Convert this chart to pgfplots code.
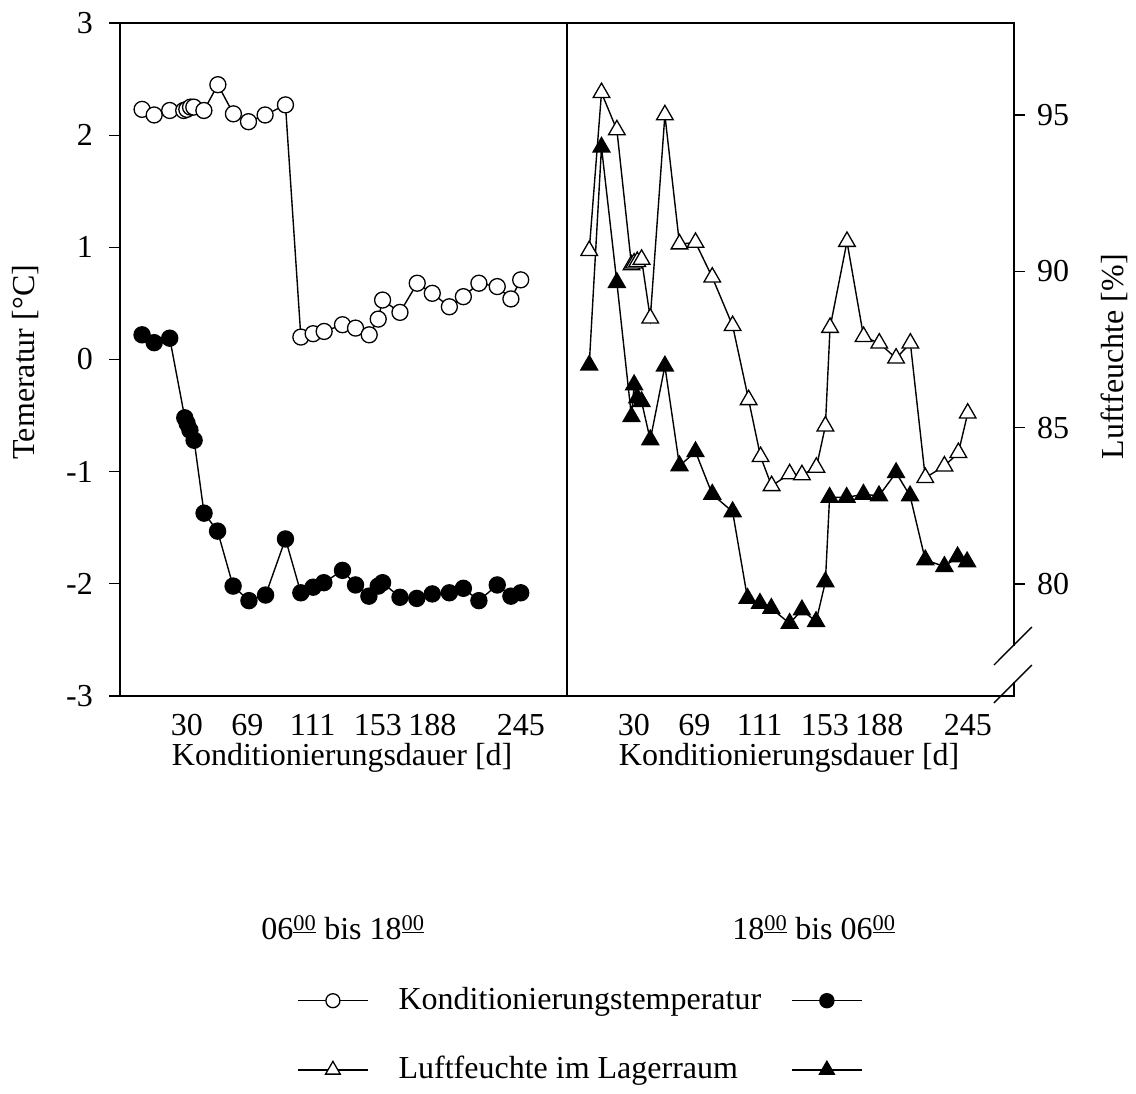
\documentclass[border=0pt]{standalone}
\usepackage{fontspec}
\setmainfont{Liberation Serif}
\usepackage{pgfplots}
\pgfplotsset{compat=1.18}
\usepackage{pgfplotstable}

% Konditionierungstemperatur, 06:00-18:00 (day, degC)
\pgfplotstableread{
day T
1.2 2.23
9 2.18
19 2.22
28 2.22
30 2.23
32.4 2.25
34.5 2.25
41 2.22
50 2.45
60 2.19
69.7 2.12
80.4 2.18
93.5 2.27
103.4 0.20
111.3 0.23
118.4 0.25
130.2 0.31
138.6 0.28
147.4 0.22
153.2 0.36
156 0.53
167.2 0.42
178.3 0.68
188 0.59
199 0.47
208 0.56
218 0.68
229.8 0.65
238.6 0.54
244.9 0.71
}\tempday

% Konditionierungstemperatur, 18:00-06:00
\pgfplotstableread{
day T
1.2 0.22
9 0.15
19 0.19
28.7 -0.52
30.2 -0.57
32 -0.63
34.7 -0.72
41.1 -1.37
49.8 -1.53
59.8 -2.02
70 -2.15
80.7 -2.10
93.5 -1.60
103.4 -2.08
111.3 -2.03
118.2 -1.99
130.2 -1.88
138.6 -2.01
147.2 -2.11
153.2 -2.02
156 -1.99
167.2 -2.12
178 -2.13
188 -2.09
199 -2.08
208 -2.04
218 -2.15
229.8 -2.01
238.6 -2.11
244.9 -2.08
}\tempnight

% Luftfeuchte im Lagerraum, 06:00-18:00 (day, %)
\pgfplotstableread{
day RH
1.3 90.66
9.2 95.71
19.1 94.52
28.5 90.20
30.2 90.26
32.2 90.31
35 90.38
40.6 88.50
50 95.0
59.4 90.87
69.7 90.92
80.5 89.81
93.6 88.26
103.9 85.89
111.6 84.07
118.7 83.14
130.3 83.52
138.2 83.49
147.5 83.73
153.3 85.05
156.3 88.2
167.2 90.95
177.9 87.91
188 87.7
198.8 87.22
208 87.7
217.6 83.4
229.9 83.77
238.9 84.2
244.9 85.46
}\rhday

% Luftfeuchte im Lagerraum, 18:00-06:00
\pgfplotstableread{
day RH
1.3 87.0
9.2 93.97
19.1 89.64
28.5 85.35
30.2 86.37
32.2 85.95
35 85.83
40.6 84.61
50 86.97
59.4 83.78
69.7 84.23
80.5 82.87
93.6 82.31
103.2 79.54
111.2 79.38
118.5 79.22
130.3 78.74
138.2 79.17
147.3 78.80
153.3 80.07
156 82.77
167 82.77
177.8 82.87
187.8 82.82
198.8 83.56
207.8 82.82
217.6 80.77
229.9 80.56
238.4 80.87
244.5 80.71
}\rhnight

\pgfplotsset{
  panel/.style={
    scale only axis, width=447pt, height=673pt,
    xmin=-13, xmax=274.7,
    xtick={30,69,111,153,188,245},
    xticklabels={30,69,111,153,188,245},
    major x tick style={draw=none},
    xticklabel style={anchor=base, inner sep=0pt, yshift=-29pt},
    tick align=outside,
    major tick length=11pt,
    every tick/.style={black, line width=1.2pt},
    xlabel={Konditionierungsdauer [d]},
    xlabel style={at={(axis description cs:0.497,0)}, anchor=base, yshift=-70pt},
    clip=false,
  },
  opencirc/.style={black, line width=1.4pt, mark=*, mark size=8pt,
    mark options={fill=white, draw=black, line width=1.3pt}},
  fullcirc/.style={black, line width=1.4pt, mark=*, mark size=8pt,
    mark options={fill=black, draw=black}},
  opentri/.style={black, line width=1.4pt, mark=triangle*, mark size=9.6pt,
    mark options={fill=white, draw=black, line width=1.3pt}},
  fulltri/.style={black, line width=1.4pt, mark=triangle*, mark size=9.6pt,
    mark options={fill=black, draw=black}},
}

\begin{document}
\fontsize{32}{38}\selectfont
\begin{tikzpicture}[x=1pt,y=1pt]
\path[use as bounding box] (0,0) rectangle (1136,1094);

% left panel: temperature
\begin{axis}[panel,
  at={(120pt,398pt)}, anchor=south west,
  ymin=-3, ymax=3,
  ytick={-3,-2,-1,0,1,2,3},
  yticklabels={-3,-2,-1,0,1,2,3},
  ytick pos=left,
  yticklabel style={anchor=east, inner sep=0pt, xshift=-16pt},
  ylabel={Temeratur [°C]},
  ylabel style={at={(axis description cs:-0.212,0.496)}, anchor=center},
  axis line style={line width=1.6pt},
  legend columns=2,
  legend style={at={(axis description cs:0.396,-0.4324)}, anchor=north west,
    draw=none, fill=none, inner sep=0pt,
    column sep=30pt, row sep=42pt,
    nodes={inner sep=0pt}},
  legend cell align=left,
  legend image code/.code={\draw[mark repeat=2,mark phase=2,#1]
    plot coordinates {(0pt,0pt) (35pt,0pt) (70pt,0pt)};},
]
\addplot[opencirc, forget plot] table[x=day, y=T] {\tempday};
\addplot[fullcirc, forget plot] table[x=day, y=T] {\tempnight};

\addlegendimage{opencirc, mark size=7pt}
\addlegendentry{Konditionierungstemperatur}
\addlegendimage{fullcirc, mark size=7pt}
\addlegendentry{}
\addlegendimage{opentri, mark size=8.5pt}
\addlegendentry{Luftfeuchte im Lagerraum}
\addlegendimage{fulltri, mark size=8.5pt}
\addlegendentry{}
\end{axis}

% right panel: relative humidity with broken axis
\begin{axis}[panel,
  at={(567pt,398pt)}, anchor=south west,
  ymin=76.42, ymax=97.94,
  ytick={80,85,90,95},
  yticklabels={80,85,90,95},
  ytick pos=right, yticklabel pos=right,
  yticklabel style={anchor=west, inner sep=0pt, xshift=12pt},
  ylabel={Luftfeuchte [\%]},
  ylabel style={at={(axis description cs:1.2254,0.504)}, anchor=center},
  axis line style={draw=none},
]
\addplot[opentri] table[x=day, y=RH] {\rhday};
\addplot[fulltri] table[x=day, y=RH] {\rhnight};

\draw[line width=1.6pt, line cap=rect]
  (rel axis cs:1,0.0758) -- (rel axis cs:1,1) -- (rel axis cs:0,1)
  -- (rel axis cs:0,0) -- (rel axis cs:1,0) -- (rel axis cs:1,0.0193);
\draw[line width=1.3pt] (rel axis cs:0.955,0.046) -- (rel axis cs:1.040,0.1025);
\draw[line width=1.3pt] (rel axis cs:0.955,-0.0104) -- (rel axis cs:1.040,0.046);
\end{axis}

% time-of-day headers above the legend
\node[anchor=base] at (343,154)
  {06\textsuperscript{\underline{00}} bis 18\textsuperscript{\underline{00}}};
\node[anchor=base] at (814,154)
  {18\textsuperscript{\underline{00}} bis 06\textsuperscript{\underline{00}}};
\end{tikzpicture}
\end{document}
